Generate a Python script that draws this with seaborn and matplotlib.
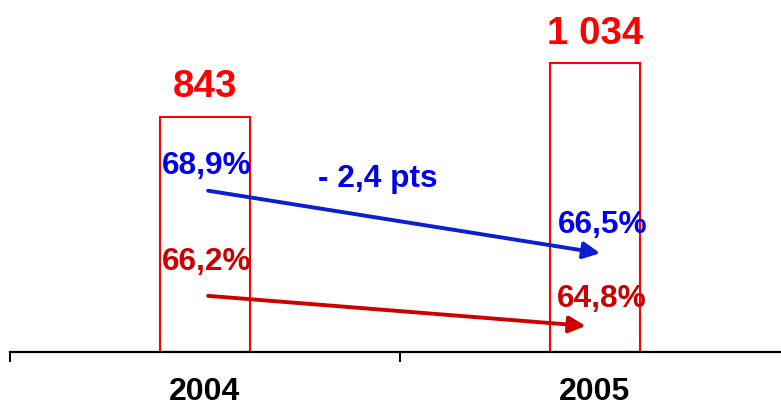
import matplotlib
matplotlib.use("Agg")
import matplotlib.pyplot as plt
import matplotlib.transforms as mtransforms
from matplotlib.ticker import FixedLocator
import seaborn as sns
import pandas as pd

# Data
years = ["2004", "2005"]
totals = [843, 1034]
rate_blue = [68.9, 66.5]
rate_red = [66.2, 64.8]

BAR_RED = "#FF0000"
BLUE_TXT = "#0000F0"
BLUE_ARROW = "#0A1FD0"
DARK_RED = "#CC0000"

sns.set_style("white")
plt.rcParams["font.family"] = ["Liberation Sans", "DejaVu Sans"]
plt.rcParams["font.weight"] = "bold"

fig = plt.figure(figsize=(7.81, 4.06), dpi=100)
ax = fig.add_axes([10 / 781, 53 / 406, 780 / 781, 353 / 406])

df = pd.DataFrame({"year": years, "total": totals})
sns.barplot(data=df, x="year", y="total", ax=ax, fill=False, color=BAR_RED,
            width=0.233, linewidth=1.5, errorbar=None)
for p in ax.patches:
    p.set_edgecolor(BAR_RED)
    p.set_facecolor("none")

ax.set_xlim(-0.5, 1.5)
ax.set_ylim(0, 1264)

def fmt_int(v):
    return f"{v:,}".replace(",", " ")

def fmt_pct(v):
    return f"{v:.1f}".replace(".", ",") + "%"

ax.bar_label(ax.containers[0], labels=[fmt_int(v) for v in totals],
             padding=9, color=BAR_RED, fontsize=27.7, fontweight="bold")

# Axis styling: only the baseline with separators between categories
for side in ("left", "top", "right"):
    ax.spines[side].set_visible(False)
ax.spines["bottom"].set_linewidth(1.6)
ax.spines["bottom"].set_color("black")
ax.set_yticks([])
ax.set_xlabel("")
ax.set_ylabel("")
ax.tick_params(axis="x", which="major", bottom=True, length=0, pad=17.5,
               labelsize=23, labelcolor="black")
for lbl in ax.get_xticklabels():
    lbl.set_fontweight("bold")
ax.xaxis.set_minor_locator(FixedLocator([-0.5, 0.5, 1.5]))
ax.tick_params(axis="x", which="minor", bottom=True, length=7.2, width=1.4,
               direction="out", color="black")

trans = mtransforms.blended_transform_factory(ax.transData, ax.transAxes)

# Rate labels
pct_kw = dict(transform=trans, ha="center", va="baseline", fontsize=22.8,
              fontweight="bold")
ax.text(0.005, 0.507, fmt_pct(rate_blue[0]), color=BLUE_TXT, **pct_kw)
ax.text(1.02, 0.340, fmt_pct(rate_blue[1]), color=BLUE_TXT, **pct_kw)
ax.text(0.005, 0.235, fmt_pct(rate_red[0]), color=DARK_RED, **pct_kw)
ax.text(1.017, 0.130, fmt_pct(rate_red[1]), color=DARK_RED, **pct_kw)

delta = rate_blue[1] - rate_blue[0]
delta_txt = ("- " if delta < 0 else "+ ") + f"{abs(delta):.1f}".replace(".", ",") + " pts"
ax.text(0.442, 0.470, delta_txt, color=BLUE_TXT, **pct_kw)

# Trend arrows between the two years
arrow_kw = dict(arrowstyle="-|>,head_length=10,head_width=5", mutation_scale=1,
                shrinkA=0, shrinkB=0, lw=2.8)
ax.annotate("", xy=(1.013, 0.280), xytext=(0.008, 0.457), xycoords=trans,
            textcoords=trans,
            arrowprops=dict(color=BLUE_ARROW, **arrow_kw))
ax.annotate("", xy=(0.976, 0.074), xytext=(0.008, 0.159), xycoords=trans,
            textcoords=trans,
            arrowprops=dict(color=DARK_RED, **arrow_kw))

fig.savefig("out.png", dpi=100, facecolor="white")
